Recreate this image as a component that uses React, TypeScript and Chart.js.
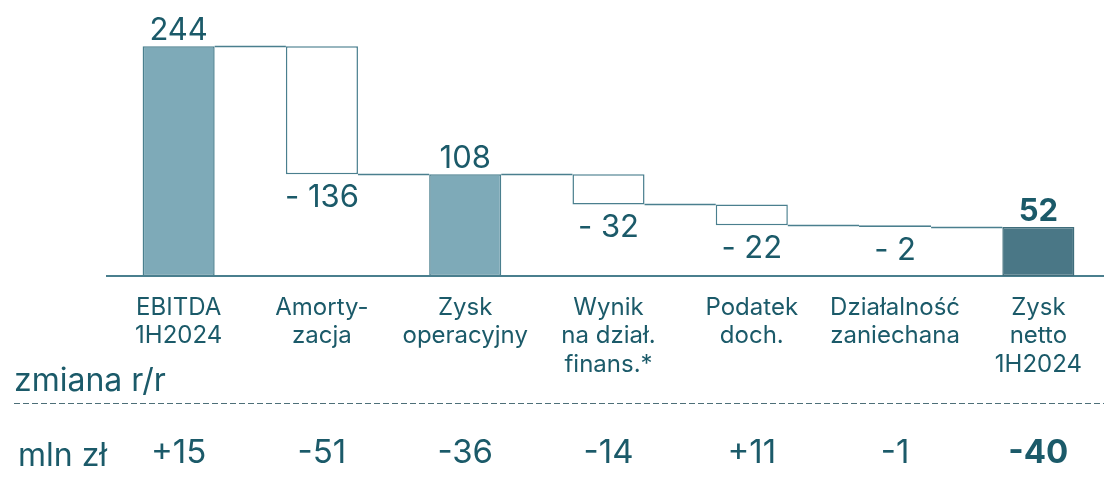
import React, { useEffect, useRef } from "react";
import { Chart, registerables } from "chart.js";

Chart.register(...registerables);

const categories: string[][] = [
  ["EBITDA", "1H2024"],
  ["Amorty-", "zacja"],
  ["Zysk", "operacyjny"],
  ["Wynik", "na dział.", "finans.*"],
  ["Podatek", "doch."],
  ["Działalność", "zaniechana"],
  ["Zysk", "netto", "1H2024"],
];
const values: number[] = [244, -136, 108, -32, -22, -2, 52];
const isTotal: boolean[] = [true, false, true, false, false, false, true];
const changeLabels: string[] = ["+15", "-51", "-36", "-14", "+11", "-1", "-40"];
const changeTitle = "zmiana r/r";
const unitLabel = "mln zł";

const TEXT = "#1b5a69";
const LINE = "#4a7f8e";
const LIGHT = "#7eaab8";
const DARK = "#4a7786";
const FONT = "Inter, 'Noto Sans', sans-serif";

// build floating ranges
const ranges: [number, number][] = [];
const cumulative: number[] = [];
{
  let run = 0;
  values.forEach((v, i) => {
    if (isTotal[i]) {
      ranges.push([0, v]);
      run = v;
    } else {
      const next = run + v;
      ranges.push([Math.min(run, next), Math.max(run, next)]);
      run = next;
    }
    cumulative.push(run);
  });
}
const valueText = values.map((v, i) => (isTotal[i] ? String(v) : (v < 0 ? "- " : "+ ") + Math.abs(v)));
const lastIdx = values.length - 1;

const overlayPlugin = {
  id: "waterfallOverlay",
  afterDatasetsDraw(chart: any) {
    const ctx = chart.ctx;
    const meta = chart.getDatasetMeta(0);
    const y = chart.scales.y;
    ctx.save();
    // connectors
    ctx.strokeStyle = LINE;
    ctx.lineWidth = 1.5;
    for (let i = 0; i < meta.data.length - 1; i++) {
      const a = meta.data[i];
      const b = meta.data[i + 1];
      const py = Math.round(y.getPixelForValue(cumulative[i])) + 0.5;
      ctx.beginPath();
      ctx.moveTo(a.x + a.width / 2, py);
      ctx.lineTo(b.x - b.width / 2, py);
      ctx.stroke();
    }
    // value labels
    ctx.fillStyle = TEXT;
    ctx.textAlign = "center";
    ctx.textBaseline = "alphabetic";
    meta.data.forEach((el: any, i: number) => {
      const bold = i === lastIdx;
      ctx.font = `${bold ? "bold " : ""}31px ${FONT}`;
      if (isTotal[i]) {
        const top = y.getPixelForValue(ranges[i][1]);
        ctx.fillText(valueText[i], el.x, top - 6);
      } else {
        const bottom = y.getPixelForValue(ranges[i][0]);
        ctx.fillText(valueText[i], el.x, bottom + 33);
      }
    });
    // bottom section
    ctx.textAlign = "left";
    ctx.font = `32px ${FONT}`;
    ctx.textBaseline = "middle";
    ctx.fillText(changeTitle, 14, 381);
    ctx.fillText(unitLabel, 18, 456);
    ctx.beginPath();
    ctx.setLineDash([6, 3]);
    ctx.strokeStyle = "#4d6f78";
    ctx.lineWidth = 1;
    ctx.moveTo(14, 403.5);
    ctx.lineTo(chart.width, 403.5);
    ctx.stroke();
    ctx.setLineDash([]);
    ctx.textAlign = "center";
    meta.data.forEach((el: any, i: number) => {
      const bold = i === lastIdx;
      ctx.font = `${bold ? "bold " : ""}33px ${FONT}`;
      ctx.fillText(changeLabels[i], el.x, 453);
    });
    ctx.restore();
  },
};

export default function App() {
  const ref = useRef<HTMLCanvasElement | null>(null);
  useEffect(() => {
    if (!ref.current) return;
    const chart = new Chart(ref.current, {
      type: "bar",
      data: {
        labels: categories,
        datasets: [
          {
            data: ranges as any,
            backgroundColor: values.map((_, i) => (i === lastIdx ? DARK : isTotal[i] ? LIGHT : "#ffffff")),
            borderColor: values.map((_, i) => (i === lastIdx ? "#3f6d7b" : LINE)),
            borderWidth: 1.5,
            borderSkipped: false,
            barPercentage: 0.503,
            categoryPercentage: 1,
          },
        ],
      },
      options: {
        animation: false,
        responsive: false,
        maintainAspectRatio: false,
        layout: { padding: { left: 107, right: 0, top: 0, bottom: 113.6 } },
        plugins: { legend: { display: false }, tooltip: { enabled: false } },
        scales: {
          x: {
            grid: { display: false },
            border: { display: true, color: LINE, width: 2 },
            ticks: {
              autoSkip: false,
              maxRotation: 0,
              padding: 9,
              color: TEXT,
              font: { family: FONT, size: 24, lineHeight: 1.2 },
            },
          },
          y: {
            display: false,
            min: 0,
            max: 293,
          },
        },
      },
      plugins: [overlayPlugin],
    });
    return () => chart.destroy();
  }, []);
  return (
    <div style={{ position: "fixed", left: 0, top: 0, width: 1104, height: 502, overflow: "hidden", background: "#fff" }}>
      <canvas ref={ref} width={1110} height={502} style={{ display: "block", width: 1110, height: 502 }} />
    </div>
  );
}
